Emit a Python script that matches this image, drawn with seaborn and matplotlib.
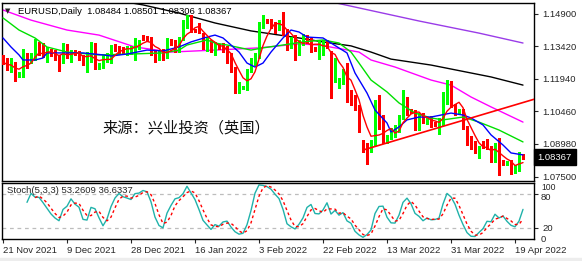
import numpy as np
import pandas as pd
import matplotlib
matplotlib.use("Agg")
import matplotlib.pyplot as plt
import matplotlib.transforms as mtransforms
import seaborn as sns

# ---------------- data ----------------
symbol = "EURUSD,Daily"
opens = [1.1288, 1.1279, 1.1247, 1.1256, 1.1202, 1.1206, 1.1288, 1.1297, 1.1293, 1.1334,
         1.1324, 1.1311, 1.1320, 1.1311, 1.1293, 1.1279, 1.1347, 1.1297, 1.1315, 1.1315,
         1.1293, 1.1261, 1.1293, 1.1338, 1.1243, 1.1247, 1.1279, 1.1306, 1.1338, 1.1334,
         1.1327, 1.1311, 1.1315, 1.1311, 1.1338, 1.1381, 1.1379, 1.1379, 1.1311, 1.1288,
         1.1324, 1.1293, 1.1365, 1.1361, 1.1324, 1.1379, 1.1438, 1.1474, 1.1415, 1.1424,
         1.1392, 1.1334, 1.1356, 1.1315, 1.1343, 1.1347, 1.1338, 1.1302, 1.1238, 1.1150,
         1.1152, 1.1152, 1.1234, 1.1270, 1.1302, 1.1438, 1.1460, 1.1460, 1.1447, 1.1442,
         1.1438, 1.1415, 1.1352, 1.1379, 1.1311, 1.1356, 1.1374, 1.1370, 1.1334, 1.1293,
         1.1311, 1.1361, 1.1311, 1.1197, 1.1156, 1.1179, 1.1256, 1.1134, 1.1111, 1.1066,
         1.0907, 1.0879, 1.0870, 1.0902, 1.1075, 1.1016, 1.0907, 1.0925, 1.0939, 1.0961,
         1.1020, 1.1097, 1.1052, 1.1043, 1.1007, 1.1029, 1.1003, 1.1016, 1.0993, 1.0975,
         1.0993, 1.1088, 1.1165, 1.1075, 1.1038, 1.1043, 1.0975, 1.0907, 1.0902, 1.0861,
         1.0902, 1.0898, 1.0884, 1.0825, 1.0893, 1.0816, 1.0807, 1.0818, 1.0775, 1.0784,
         1.08484]
highs = [1.1302, 1.1288, 1.1288, 1.1270, 1.1224, 1.1329, 1.1311, 1.1311, 1.1374, 1.1361,
         1.1356, 1.1338, 1.1329, 1.1324, 1.1302, 1.1356, 1.1352, 1.1324, 1.1324, 1.1320,
         1.1302, 1.1315, 1.1361, 1.1356, 1.1265, 1.1302, 1.1311, 1.1347, 1.1352, 1.1343,
         1.1338, 1.1343, 1.1343, 1.1379, 1.1370, 1.1392, 1.1388, 1.1383, 1.1320, 1.1324,
         1.1329, 1.1379, 1.1374, 1.1370, 1.1383, 1.1460, 1.1483, 1.1483, 1.1420, 1.1447,
         1.1401, 1.1383, 1.1370, 1.1361, 1.1352, 1.1356, 1.1343, 1.1311, 1.1247, 1.1179,
         1.1160, 1.1240, 1.1288, 1.1311, 1.1451, 1.1483, 1.1465, 1.1465, 1.1451, 1.1460,
         1.1495, 1.1420, 1.1383, 1.1392, 1.1370, 1.1395, 1.1392, 1.1379, 1.1338, 1.1370,
         1.1370, 1.1370, 1.1320, 1.1290, 1.1195, 1.1240, 1.1265, 1.1143, 1.1120, 1.1075,
         1.0915, 1.0900, 1.0915, 1.1097, 1.1120, 1.1030, 1.0940, 1.0970, 1.0985, 1.1030,
         1.1143, 1.1111, 1.1057, 1.1050, 1.1040, 1.1040, 1.1015, 1.1025, 1.0997, 1.1016,
         1.1134, 1.1188, 1.1185, 1.1080, 1.1055, 1.1055, 1.0980, 1.0935, 1.0910, 1.0890,
         1.0910, 1.0920, 1.0890, 1.0902, 1.0925, 1.0825, 1.0820, 1.0825, 1.0800, 1.0863,
         1.08501]
lows = [1.1261, 1.1234, 1.1224, 1.1184, 1.1200, 1.1202, 1.1243, 1.1265, 1.1279, 1.1302,
        1.1293, 1.1270, 1.1297, 1.1279, 1.1229, 1.1265, 1.1288, 1.1270, 1.1302, 1.1279,
        1.1256, 1.1224, 1.1270, 1.1238, 1.1238, 1.1243, 1.1270, 1.1265, 1.1320, 1.1311,
        1.1306, 1.1302, 1.1306, 1.1279, 1.1329, 1.1370, 1.1365, 1.1302, 1.1270, 1.1279,
        1.1279, 1.1288, 1.1347, 1.1315, 1.1315, 1.1370, 1.1424, 1.1406, 1.1406, 1.1401,
        1.1329, 1.1320, 1.1315, 1.1302, 1.1329, 1.1315, 1.1265, 1.1224, 1.1129, 1.1129,
        1.1147, 1.1143, 1.1224, 1.1256, 1.1288, 1.1424, 1.1447, 1.1424, 1.1401, 1.1415,
        1.1392, 1.1324, 1.1334, 1.1280, 1.1302, 1.1347, 1.1356, 1.1315, 1.1320, 1.1284,
        1.1302, 1.1334, 1.1106, 1.1180, 1.1150, 1.1170, 1.1088, 1.1075, 1.1052, 1.0952,
        1.0860, 1.0806, 1.0860, 1.0893, 1.0965, 1.0900, 1.0900, 1.0920, 1.0930, 1.0950,
        1.1010, 1.1030, 1.1038, 1.0961, 1.0961, 1.0995, 1.0990, 1.0975, 1.0980, 1.0945,
        1.0985, 1.1080, 1.1066, 1.1030, 1.1034, 1.0965, 1.0895, 1.0875, 1.0855, 1.0835,
        1.0880, 1.0875, 1.0815, 1.0816, 1.0757, 1.0800, 1.0803, 1.0763, 1.0765, 1.0775,
        1.08306]
closes = [1.1270, 1.1247, 1.1252, 1.1202, 1.1215, 1.1325, 1.1279, 1.1302, 1.1334, 1.1315,
          1.1306, 1.1315, 1.1311, 1.1293, 1.1270, 1.1347, 1.1293, 1.1320, 1.1311, 1.1288,
          1.1261, 1.1293, 1.1338, 1.1243, 1.1247, 1.1279, 1.1302, 1.1338, 1.1334, 1.1324,
          1.1322, 1.1334, 1.1334, 1.1370, 1.1361, 1.1377, 1.1374, 1.1311, 1.1279, 1.1315,
          1.1288, 1.1370, 1.1356, 1.1324, 1.1379, 1.1447, 1.1474, 1.1415, 1.1411, 1.1410,
          1.1338, 1.1379, 1.1324, 1.1347, 1.1334, 1.1324, 1.1302, 1.1234, 1.1143, 1.1156,
          1.1156, 1.1234, 1.1279, 1.1302, 1.1447, 1.1460, 1.1451, 1.1447, 1.1415, 1.1447,
          1.1420, 1.1347, 1.1370, 1.1311, 1.1361, 1.1383, 1.1361, 1.1324, 1.1324, 1.1361,
          1.1347, 1.1347, 1.1188, 1.1279, 1.1188, 1.1224, 1.1134, 1.1111, 1.1061, 1.0961,
          1.0870, 1.0870, 1.0902, 1.1075, 1.0975, 1.0907, 1.0935, 1.0948, 1.0971, 1.1020,
          1.1097, 1.1038, 1.1043, 1.1007, 1.1029, 1.1007, 1.1007, 1.0984, 1.0984, 1.0997,
          1.1097, 1.1170, 1.1075, 1.1043, 1.1050, 1.0975, 1.0902, 1.0893, 1.0861, 1.0884,
          1.0884, 1.0884, 1.0825, 1.0893, 1.0811, 1.0806, 1.0813, 1.0775, 1.0793, 1.0848,
          1.08367]

# moving averages (bar index, price)
ma_blue_idx = [0, 2, 4, 5, 8, 10, 11, 14, 20, 25, 27, 31, 36, 40, 44, 47, 51, 53, 55, 59,
               61, 63, 65, 67, 70, 72, 74, 76, 80, 82, 86, 88, 91, 93, 96, 97, 99, 101, 104,
               107, 112, 115, 117, 120, 122, 125, 127, 130]
ma_blue_val = [1.1379, 1.1338, 1.1302, 1.1279, 1.1279, 1.1288, 1.1311, 1.1311, 1.1311, 1.1302,
               1.1297, 1.1306, 1.1324, 1.1320, 1.1338, 1.1361, 1.1383, 1.1392, 1.1379, 1.1315,
               1.1265, 1.1247, 1.1265, 1.1315, 1.1379, 1.1415, 1.1406, 1.1383, 1.1379, 1.1356,
               1.1311, 1.1220, 1.1129, 1.1052, 1.0993, 1.0952, 1.0975, 1.1007, 1.1020,
               1.1020, 1.1038, 1.1029, 1.1016, 1.0984, 1.0939, 1.0893, 1.0857, 1.0848]
ma_green_idx = [0, 4, 8, 11, 16, 24, 32, 40, 44, 46, 51, 53, 56, 62, 65, 70, 75, 80, 84, 87,
                89, 92, 96, 99, 103, 107, 110, 115, 119, 124, 130]
ma_green_val = [1.1470, 1.1415, 1.1379, 1.1338, 1.1315, 1.1302, 1.1306, 1.1311, 1.1324, 1.1347,
                1.1370, 1.1356, 1.1347, 1.1324, 1.1334, 1.1347, 1.1361, 1.1370, 1.1356, 1.1315,
                1.1265, 1.1188, 1.1134, 1.1084, 1.1038, 1.1016, 1.1007, 1.1020, 1.0997, 1.0961,
                1.0907]
ma_magenta_idx = [0, 7, 16, 24, 33, 42, 53, 64, 74, 79, 89, 92, 98, 107, 112, 117, 122, 130]
ma_magenta_val = [1.1506, 1.1460, 1.1415, 1.1392, 1.1338, 1.1315, 1.1324, 1.1334, 1.1352, 1.1347,
                  1.1315, 1.1279, 1.1247, 1.1188, 1.1165, 1.1111, 1.1066, 1.0997]
ma_black_idx = [28, 35, 44, 53, 62, 74, 80, 87, 92, 97, 107, 122, 130]
ma_black_val = [1.1551, 1.1529, 1.1492, 1.1447, 1.1411, 1.1379, 1.1361, 1.1343, 1.1315, 1.1283,
                1.1256, 1.1202, 1.1165]
ma_purple_idx = [80, 104, 119, 130]
ma_purple_val = [1.1551, 1.1456, 1.1401, 1.1356]
trend_idx = [90, 133]
trend_val = [1.0870, 1.1102]

price_ticks = [1.14900, 1.13420, 1.11940, 1.10460, 1.08980, 1.07500]
stoch_levels = [20, 80]
date_labels = ["21 Nov 2021", "9 Dec 2021", "28 Dec 2021", "16 Jan 2022", "3 Feb 2022",
               "22 Feb 2022", "13 Mar 2022", "31 Mar 2022", "19 Apr 2022"]
stoch_label = "Stoch(5,3,3) 53.2609 36.6337"
watermark = "来源：兴业投资（英国）"

# ---------------- style ----------------
sns.set_style("white")
plt.rcParams['font.family'] = ['Liberation Sans', 'DejaVu Sans']
FS = 6.8

o = np.array(opens); h = np.array(highs); l = np.array(lows); c = np.array(closes)
n = len(c)
idx = np.arange(n)

W, H = 582, 261
def fa(x0, y0, x1, y1):
    return [x0 / W, 1 - y1 / H, (x1 - x0) / W, (y1 - y0) / H]

fig = plt.figure(figsize=(W / 100, H / 100), dpi=100)
fig.patch.set_facecolor('white')
ax = fig.add_axes(fa(2, 3, 534, 181))
axs = fig.add_axes(fa(2, 183, 534, 239), sharex=ax)

# candles
up = c >= o
cols = np.where(up, '#00FF00', '#FF0000')
ax.vlines(idx, l, h, colors=cols, linewidth=1, antialiased=False, zorder=3)
body_lo = np.minimum(o, c)
body_h = np.maximum(np.abs(c - o), 0.00035)
ax.bar(idx, body_h, bottom=body_lo, width=0.72, color=cols, linewidth=0,
       antialiased=False, zorder=4)

# moving averages
red_ma = pd.Series(c).rolling(5, min_periods=1).mean()
sns.lineplot(x=ma_purple_idx, y=ma_purple_val, ax=ax, color='#9A3CE8', lw=1, zorder=2)
sns.lineplot(x=ma_black_idx, y=ma_black_val, ax=ax, color='black', lw=1, zorder=2)
sns.lineplot(x=ma_magenta_idx, y=ma_magenta_val, ax=ax, color='#FF00FF', lw=1, zorder=2)
sns.lineplot(x=ma_green_idx, y=ma_green_val, ax=ax, color='#00E000', lw=1, zorder=5)
sns.lineplot(x=ma_blue_idx, y=ma_blue_val, ax=ax, color='#0000FF', lw=1, zorder=5)
sns.lineplot(x=idx, y=red_ma.values, ax=ax, color='#FF0000', lw=1, zorder=5)
sns.lineplot(x=trend_idx, y=trend_val, ax=ax, color='#FF0000', lw=1.2, zorder=5)

ax.set_xlim(-0.25, 132.75)
ax.set_ylim(1.07296, 1.15377)
ax.yaxis.tick_right()
ax.set_yticks(price_ticks)
ax.set_yticklabels([f"{t:.5f}" for t in price_ticks])
ax.tick_params(axis='y', direction='out', length=3, width=0.8, pad=3, labelsize=FS, right=True)
ax.tick_params(axis='x', bottom=False, labelbottom=False)
ax.set_xlabel(''); ax.set_ylabel('')
for s in ax.spines.values():
    s.set_color('black'); s.set_linewidth(1)

# header
fig.text(5 / W, 1 - 11 / H, "▼", fontsize=5, family='DejaVu Sans', va='center', ha='left')
fig.text(18 / W, 1 - 11 / H,
         f"{symbol}  {opens[-1]:.5f} {highs[-1]:.5f} {lows[-1]:.5f} {closes[-1]:.5f}",
         fontsize=FS, va='center', ha='left', color='black')

# watermark
fig.text(186 / W, 1 - 128 / H, watermark, fontsize=11, va='center', ha='center',
         color='#111111', family=['Noto Sans CJK SC', 'DejaVu Sans'])

# current price tag
tr = mtransforms.blended_transform_factory(ax.transAxes, ax.transData)
ax.text(1.007, closes[-1], f"{closes[-1]:.5f}", transform=tr, color='white', fontsize=FS,
        va='center', ha='left', clip_on=False,
        bbox=dict(boxstyle='square,pad=0.38', fc='black', ec='black'))

# stochastic (5,3,3)
hh = pd.Series(h).rolling(5).max()
ll = pd.Series(l).rolling(5).min()
num = (pd.Series(c) - ll).rolling(3).sum()
den = (hh - ll).rolling(3).sum()
k = 100 * num / den
d = k.rolling(3).mean()
for lv in stoch_levels:
    axs.axhline(lv, color='#BDBDBD', lw=0.9, ls=(0, (3, 3)))
sns.lineplot(x=idx, y=k.values, ax=axs, color='#20B2AA', lw=1)
sns.lineplot(x=idx, y=d.values, ax=axs, color='#FF0000', lw=1, linestyle=(0, (2, 2)))
axs.set_ylim(0, 100)
axs.set_xlim(-0.25, 132.75)
axs.yaxis.tick_right()
axs.set_yticks(stoch_levels)
axs.set_yticklabels(['20', ''])
axs.tick_params(axis='y', direction='out', length=3, width=0.8, pad=3, labelsize=FS)
tr2 = mtransforms.blended_transform_factory(axs.transAxes, axs.transData)
axs.text(1.013, 92, "100", transform=tr2, fontsize=6.2, va='center', ha='left', clip_on=False)
axs.text(1.013, 74, "80", transform=tr2, fontsize=FS, va='center', ha='left', clip_on=False)
axs.text(1.013, 0, "0", transform=tr2, fontsize=FS, va='center', ha='left', clip_on=False)
axs.text(0.01, 86, stoch_label, transform=tr2, fontsize=FS, va='center', ha='left')
tick_pos = np.arange(0, n, 16)[:len(date_labels)]
axs.set_xticks(tick_pos)
axs.set_xticklabels(date_labels)
axs.tick_params(axis='x', direction='out', length=3, width=0.8, pad=2, labelsize=FS, bottom=True)
for lab in axs.get_xticklabels():
    lab.set_ha('left')
axs.set_xlabel(''); axs.set_ylabel('')
for s in axs.spines.values():
    s.set_color('black'); s.set_linewidth(1)

# bottom window strip
fig.patches.append(plt.Rectangle((0, 0), 1, 3 / H, transform=fig.transFigure,
                                 color='#EDEDED', zorder=0))

fig.savefig("out.png", dpi=100)
